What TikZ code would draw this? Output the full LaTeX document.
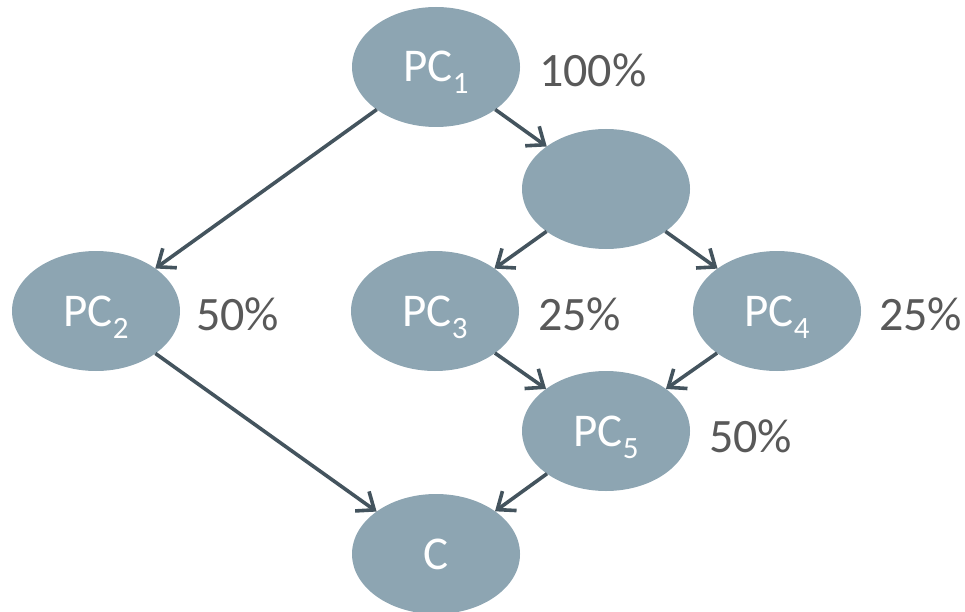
\documentclass[tikz,border=0pt]{standalone}
\usepackage{fontspec}
\setmainfont{Carlito}
\usetikzlibrary{arrows.meta,shapes.geometric}
\definecolor{ellfill}{HTML}{8DA5B2}
\definecolor{arrcol}{HTML}{44545E}
\definecolor{pctcol}{HTML}{595959}
\newcommand\subsc[1]{\raisebox{-12pt}{\fontsize{31}{31}\selectfont #1}}
\tikzset{
  pcnode/.style={ellipse, fill=ellfill, draw=none, minimum width=168pt, minimum height=120pt,
    inner sep=0pt, outer sep=0pt, text=white, font=\fontsize{47}{50}\selectfont,
    text height=30pt, text depth=0pt},
  pct/.style={anchor=base west, inner sep=0pt, text=pctcol, font=\fontsize{48}{52}\selectfont},
  conn/.style={draw=arrcol, line width=3.6pt, -{Straight Barb[length=15pt,width=24pt]}}
}
\begin{document}
\begin{tikzpicture}[x=1pt,y=-1pt]
\useasboundingbox (0,0) rectangle (965,612);
\node[pcnode] (pc1) at (436,67) {PC\subsc{1}};
\node[pcnode] (e) at (606,189) {};
\node[pcnode] (pc2) at (96,311) {PC\subsc{2}};
\node[pcnode] (pc3) at (435,311) {PC\subsc{3}};
\node[pcnode] (pc4) at (777,311) {PC\subsc{4}};
\node[pcnode] (pc5) at (606,431) {PC\subsc{5}};
\node[pcnode] (c) at (436,554) {C};
\node[pct] (l1) at (539,87) {100\%};
\node[pct] (l2) at (196,330) {50\%};
\node[pct] (l3) at (538,330) {25\%};
\node[pct] (l4) at (879,330) {25\%};
\node[pct] (l5) at (709,452) {50\%};
\draw[conn] (pc1) -- (e);
\draw[conn] (pc1) -- (pc2);
\draw[conn] (e) -- (pc3);
\draw[conn] (e) -- (pc4);
\draw[conn] (pc3) -- (pc5);
\draw[conn] (pc4) -- (pc5);
\draw[conn] (pc2) -- (c);
\draw[conn] (pc5) -- (c);
\end{tikzpicture}
\end{document}
